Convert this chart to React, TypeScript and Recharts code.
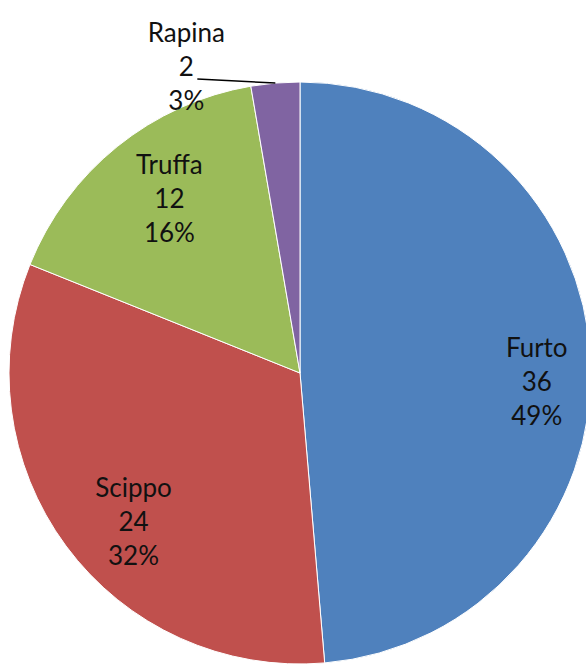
import { PieChart, Pie, Cell } from 'recharts';

const categories = ['Furto', 'Scippo', 'Truffa', 'Rapina'];
const values = [36, 24, 12, 2];
const percentLabels = ['49%', '32%', '16%', '3%'];
const colors = ['#4F81BD', '#C0504D', '#9BBB59', '#8064A2'];

const data = categories.map((name, i) => ({ name, value: values[i], pct: percentLabels[i] }));

const RAD = Math.PI / 180;

const renderLabel = (props: any) => {
    const { cx, cy, midAngle, outerRadius, index } = props;
    const d = data[index];
    const style = { fontFamily: 'Lato, "Open Sans", sans-serif', fontSize: 26, fill: '#111' };
    if (index === 3) {
        // small slice: label outside with a leader line
        const ex = cx + outerRadius * Math.cos(-midAngle * RAD);
        const ey = cy + outerRadius * Math.sin(-midAngle * RAD);
        const lx = ex - 78;
        const ly = ey - 4;
        const tx = lx - 11;
        return (
            <g>
                <line x1={ex} y1={ey} x2={lx} y2={ly} stroke='#000' strokeWidth={1.5} />
                <text x={tx} y={ly - 47} textAnchor='middle' dominantBaseline='central' {...style}>
                    {d.name}
                </text>
                <text x={tx} y={ly - 13} textAnchor='middle' dominantBaseline='central' {...style}>
                    {d.value}
                </text>
                <text x={tx} y={ly + 21} textAnchor='middle' dominantBaseline='central' {...style}>
                    {d.pct}
                </text>
            </g>
        );
    }
    // excel nudges the inside labels a bit off the mid-radius
    const nudge = [
        [10, 18],
        [16, 13],
        [12, 2],
    ][index];
    const r = outerRadius * 0.78;
    const x = cx + r * Math.cos(-midAngle * RAD) + nudge[0];
    const y = cy + r * Math.sin(-midAngle * RAD) + nudge[1];
    return (
        <g>
            <text x={x} y={y - 34} textAnchor='middle' dominantBaseline='central' {...style}>
                {d.name}
            </text>
            <text x={x} y={y} textAnchor='middle' dominantBaseline='central' {...style}>
                {d.value}
            </text>
            <text x={x} y={y + 34} textAnchor='middle' dominantBaseline='central' {...style}>
                {d.pct}
            </text>
        </g>
    );
};

export default function App() {
    return (
        <div style={{ position: 'absolute', left: 0, top: 0, width: 586, height: 669, background: '#fff' }}>
            <PieChart width={586} height={669} margin={{ top: 0, right: 0, bottom: 0, left: 0 }}>
                <Pie
                    data={data}
                    dataKey='value'
                    nameKey='name'
                    cx={300}
                    cy={373}
                    outerRadius={291}
                    startAngle={90}
                    endAngle={-270}
                    stroke='#fff'
                    strokeWidth={1}
                    label={renderLabel}
                    labelLine={false}
                    isAnimationActive={false}
                >
                    {data.map((entry, i) => (
                        <Cell key={entry.name} fill={colors[i]} />
                    ))}
                </Pie>
            </PieChart>
        </div>
    );
}
